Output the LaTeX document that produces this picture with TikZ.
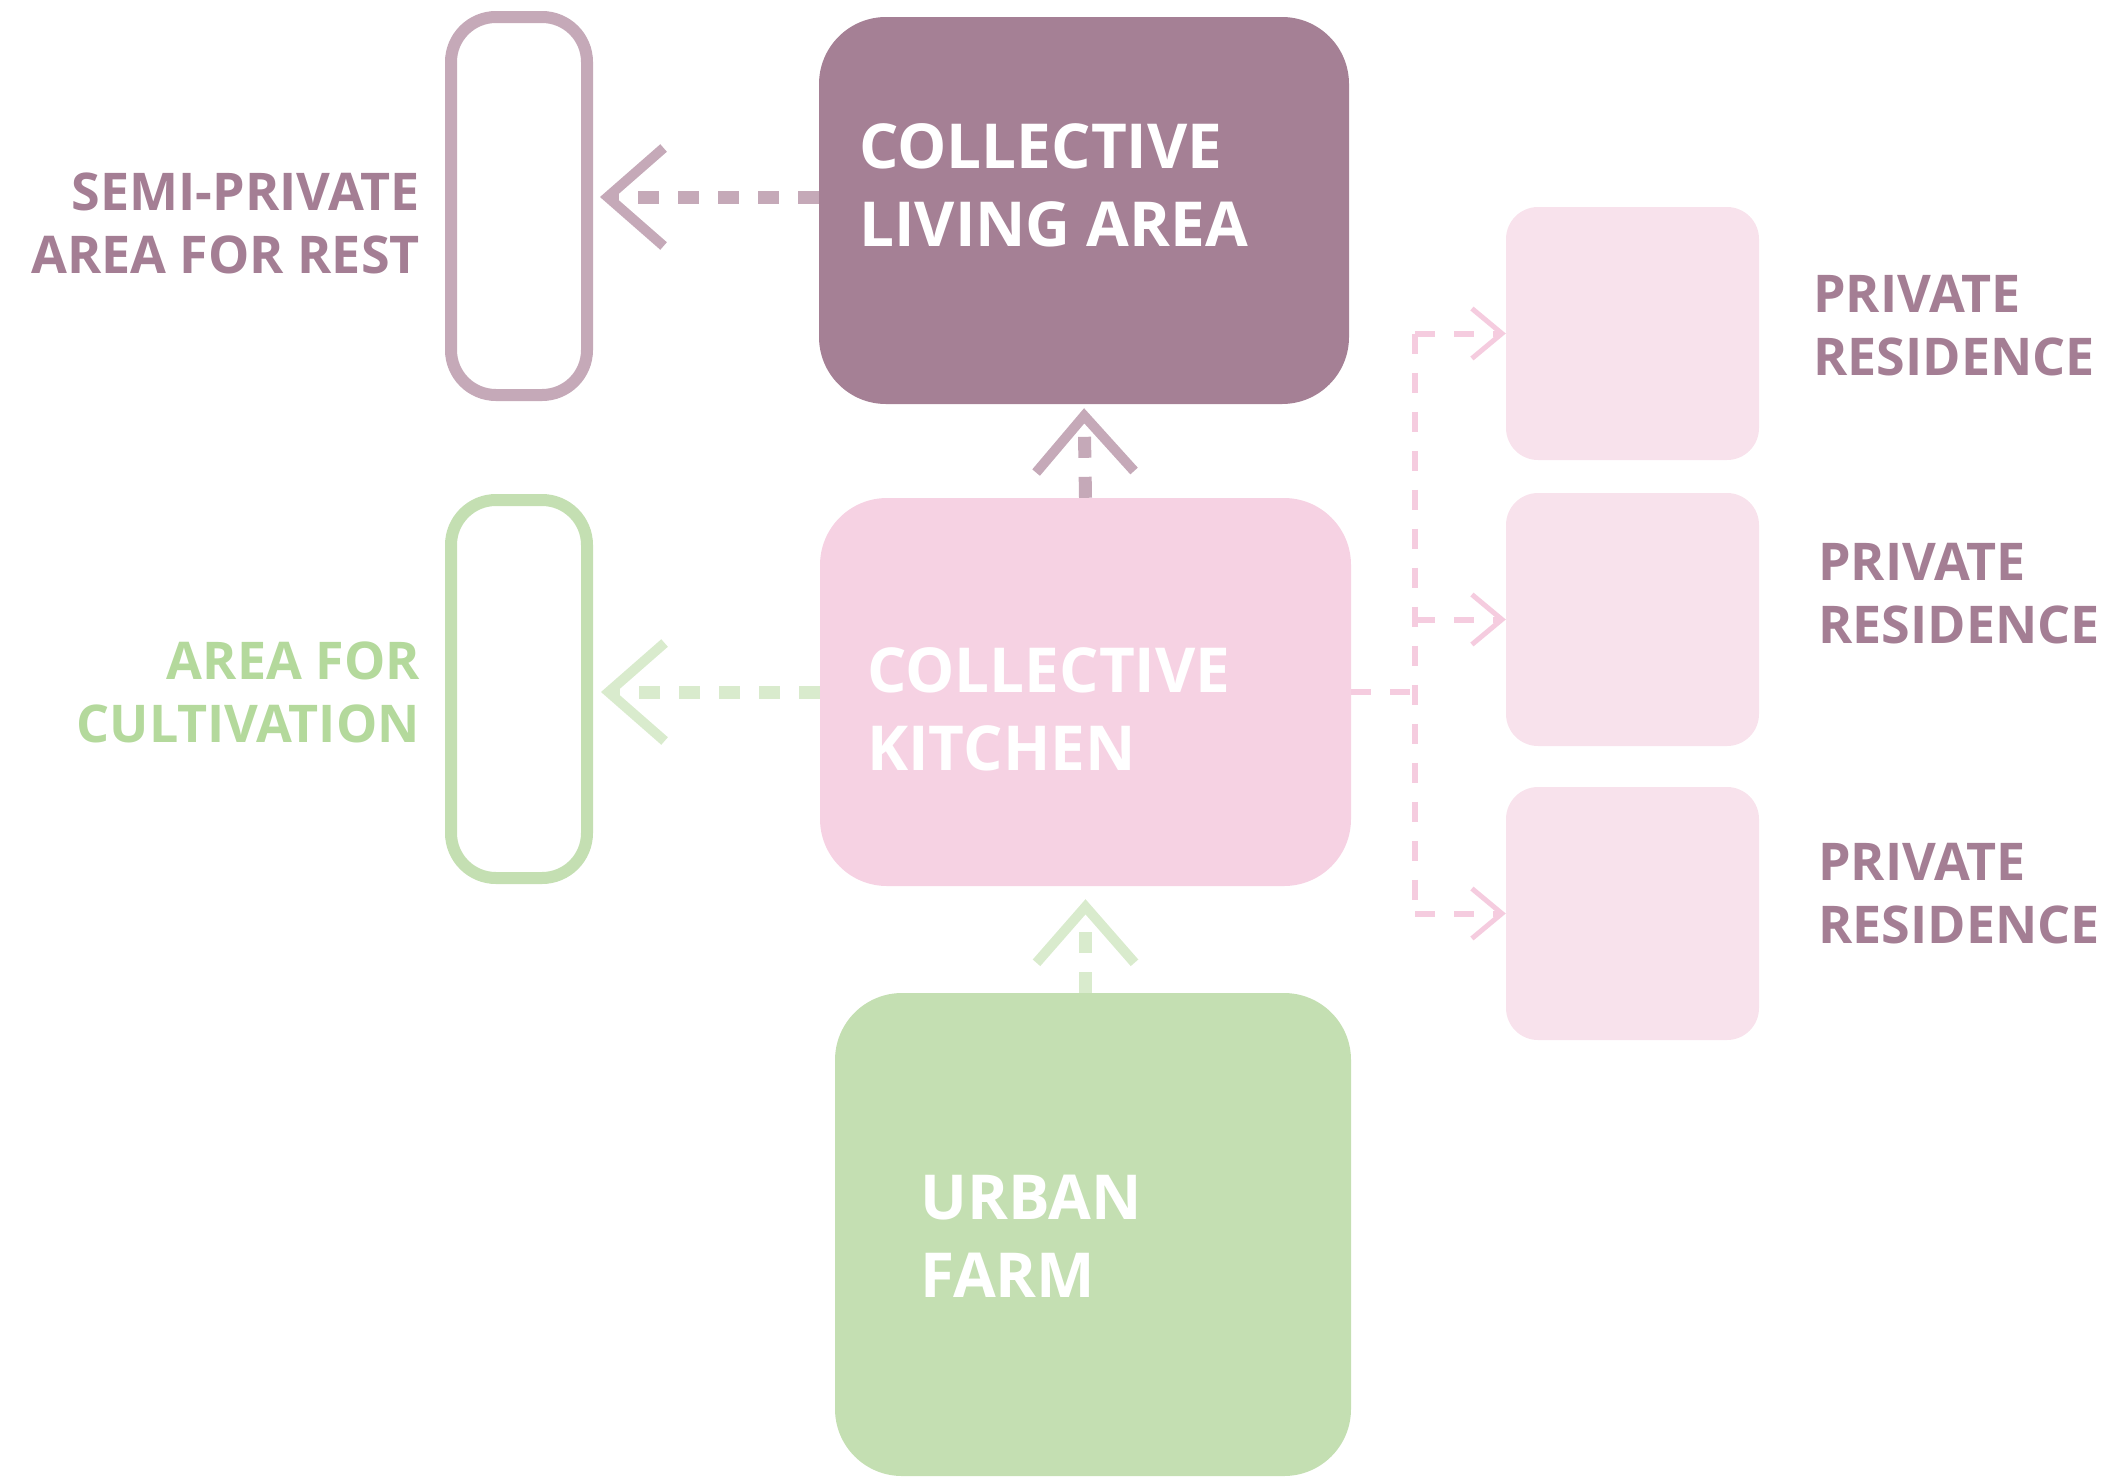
\documentclass[tikz,border=0pt]{standalone}
\usepackage{fontspec}
\setmainfont{Open Sans}
\usetikzlibrary{arrows.meta}
\definecolor{mauve}{HTML}{A58095}
\definecolor{mauvetext}{HTML}{A47E94}
\definecolor{mauvelight}{HTML}{C5A9B8}
\definecolor{rosefill}{HTML}{F6D2E3}
\definecolor{roselight}{HTML}{F8E2EC}
\definecolor{roseline}{HTML}{F5CCDF}
\definecolor{sage}{HTML}{C4DFB2}
\definecolor{sagetext}{HTML}{B4D99C}
\definecolor{sagelight}{HTML}{D9EBCD}

\begin{document}
\begin{tikzpicture}[x=1pt, y=-1pt,
    box/.style={rectangle, inner sep=0pt, rounded corners=67pt},
    frame/.style={rectangle, draw, line width=12pt, inner sep=0pt, minimum width=136pt, minimum height=378pt, rounded corners=45pt},
    home/.style={rectangle, fill=roselight, inner sep=0pt, minimum size=253pt, rounded corners=32pt},
    inner/.style={anchor=north west, inner sep=0pt, align=left, text=white, font=\bfseries\fontsize{62}{78}\selectfont},
    tag/.style={inner sep=0pt, font=\bfseries\fontsize{52}{63}\selectfont},
    link/.style={line width=13pt, dash pattern=on 21pt off 19pt, -{Straight Barb[length=56pt, width=98pt, line width=10pt, line cap=butt, line join=miter]}},
    wire/.style={line width=6pt, roseline, dash pattern=on 20pt off 19pt}]
  \useasboundingbox (0,0) rectangle (2105,1476);
  % boxes
  \node[box, fill=mauve, minimum width=530pt, minimum height=387pt] (L) at (1084, 210.5) {};
  \node[box, fill=rosefill, minimum width=531pt, minimum height=388pt] (K) at (1085.5, 692) {};
  \node[box, fill=sage, minimum width=516pt, minimum height=483pt] (F) at (1093, 1234.5) {};
  \node[frame, mauvelight] (S) at (519, 206) {};
  \node[frame, sage] (C) at (519, 689) {};
  \node[home] (R1) at (1632.5, 333.5) {};
  \node[home] (R2) at (1632.5, 619.5) {};
  \node[home] (R3) at (1632.5, 913.5) {};
  % texts
  \node[inner] (Lt) at (859, 123.5) {COLLECTIVE\\LIVING AREA};
  \node[inner] (Kt) at (867, 647) {COLLECTIVE\\KITCHEN};
  \node[inner] (Ft) at (920, 1175) {URBAN\\FARM};
  \node[tag, anchor=north east, align=right, text=mauvetext] (St) at (420, 173) {SEMI-PRIVATE\\AREA FOR REST};
  \node[tag, anchor=north east, align=right, text=sagetext] (Ct) at (420, 642) {AREA FOR\\CULTIVATION};
  \node[tag, anchor=north west, align=left, text=mauvetext] (R1t) at (1813, 275) {PRIVATE\\RESIDENCE};
  \node[tag, anchor=north west, align=left, text=mauvetext] (R2t) at (1818, 543) {PRIVATE\\RESIDENCE};
  \node[tag, anchor=north west, align=left, text=mauvetext] (R3t) at (1818, 843) {PRIVATE\\RESIDENCE};
  % arrows
  \coordinate (a) at ([yshift=13.5pt]L.west);
  \draw[link, mauvelight, shorten >=7pt] (a) -- (S.east |- a);
  \draw[link, mauvelight, shorten >=4pt] (K.north) -- (L.south);
  \draw[link, sagelight, shorten >=8pt] (K.west) -- (C.east |- K.west);
  \draw[link, sagelight, shorten >=13pt] (F.north -| K.south) -- (K.south);
  % kitchen to residences
  \coordinate (J) at ([xshift=64pt]K.east);
  \coordinate (J1) at (J |- R1.west);
  \coordinate (J3) at (J |- R3.west);
  \draw[wire] (K.east) -- (J);
  \draw[wire] (J1) -- (J3);
  \foreach \r/\j in {R1/J1, R2/J, R3/J3}
    \draw[wire, -{Straight Barb[length=30pt, width=50pt, line width=5pt]}] (\j |- \r.west) -- (\r.west);
\end{tikzpicture}
\end{document}
